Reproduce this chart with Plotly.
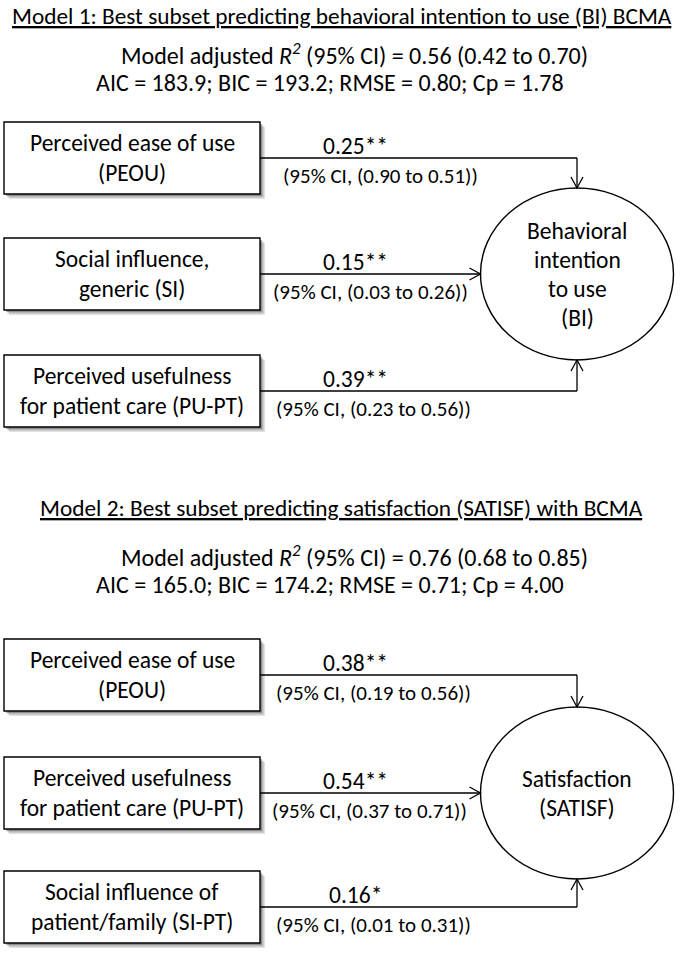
import plotly.graph_objects as go

# ---------------- data ----------------
model_titles = [
    "Model 1: Best subset predicting behavioral intention to use (BI) BCMA",
    "Model 2: Best subset predicting satisfaction (SATISF) with BCMA",
]
r2_values = ["0.56 (0.42 to 0.70)", "0.76 (0.68 to 0.85)"]
fit_stats = [
    "AIC = 183.9; BIC = 193.2; RMSE = 0.80; Cp = 1.78",
    "AIC = 165.0; BIC = 174.2; RMSE = 0.71; Cp = 4.00",
]
predictors_m1 = ["Perceived ease of use<br>(PEOU)",
                 "Social influence,<br>generic (SI)",
                 "Perceived usefulness<br>for patient care (PU-PT)"]
coef_m1 = ["0.25**", "0.15**", "0.39**"]
ci_m1 = ["(0.90 to 0.51)", "(0.03 to 0.26)", "(0.23 to 0.56)"]
outcome_m1 = ["Behavioral", "intention", "to use", "(BI)"]

predictors_m2 = ["Perceived ease of use<br>(PEOU)",
                 "Perceived usefulness<br>for patient care (PU-PT)",
                 "Social influence of<br>patient/family (SI-PT)"]
coef_m2 = ["0.38**", "0.54**", "0.16*"]
ci_m2 = ["(0.19 to 0.56)", "(0.37 to 0.71)", "(0.01 to 0.31)"]
outcome_m2 = ["Satisfaction", "(SATISF)"]

# ---------------- layout ----------------
W, H = 683, 954
FONT = "Carlito, Calibri, Lato, sans-serif"
fig = go.Figure()
shapes, annots = [], []

def text(x, y, s, size=23, xanchor="center"):
    annots.append(dict(x=x, y=y, text=s, showarrow=False, xanchor=xanchor,
                       yanchor="middle", font=dict(family=FONT, size=size, color="black")))

def line(x0, y0, x1, y1):
    shapes.append(dict(type="line", x0=x0, y0=y0, x1=x1, y1=y1,
                       line=dict(color="black", width=1.3)))

def arrowhead(x, y, dx, dy, L=11, w=6):
    px, py = -dy, dx
    ax, ay = x - dx * L + px * w, y - dy * L + py * w
    bx, by = x - dx * L - px * w, y - dy * L - py * w
    shapes.append(dict(type="path", path=f"M{ax},{ay} L{x},{y} L{bx},{by}",
                       line=dict(color="black", width=1.3)))

def model(ti, head_ys, box_tops, preds, coefs, cis, ci_x, outcome, ell_cy):
    ty, ry2, ay2 = head_ys
    text(341.5, ty, f"<u>{model_titles[ti]}</u>", size=23.3)
    text(354, ry2, f"Model adjusted <i>R</i><sup><i>2</i></sup> (95% CI) = {r2_values[ti]}", size=24)
    text(330, ay2, fit_stats[ti], size=24)
    bx0, bx1, bh = 4, 260, 72
    cx, rx, ry = 577, 96.5, 86
    shapes.append(dict(type="circle", x0=cx - rx, x1=cx + rx, y0=ell_cy - ry, y1=ell_cy + ry,
                       line=dict(color="black", width=1.4), fillcolor="white"))
    n = len(outcome)
    for k, s in enumerate(outcome):
        text(cx, ell_cy + (k - (n - 1) / 2) * 29, s, size=23.5)
    for i, (p, c, ci) in enumerate(zip(preds, coefs, cis)):
        top = box_tops[i]
        for d, a in ((5, 0.18), (3.5, 0.3), (2, 0.45)):
            shapes.append(dict(type="rect", x0=bx0 + d, x1=bx1 + d, y0=top + d, y1=top + bh + d,
                               line=dict(width=0), fillcolor=f"rgba(90,90,90,{a})"))
        shapes.append(dict(type="rect", x0=bx0, x1=bx1, y0=top, y1=top + bh,
                           line=dict(color="black", width=1.4), fillcolor="white"))
        mid = top + bh / 2
        l1, l2 = p.split("<br>")
        text((bx0 + bx1) / 2, mid - 15, l1, size=23.5)
        text((bx0 + bx1) / 2, mid + 15, l2, size=23.5)
        if i == 0:
            line(bx1, mid, cx, mid)
            line(cx, mid, cx, ell_cy - ry)
            arrowhead(cx, ell_cy - ry, 0, 1)
        elif i == 1:
            line(bx1, mid, cx - rx, mid)
            arrowhead(cx - rx, mid, 1, 0)
        else:
            line(bx1, mid, cx, mid)
            line(cx, mid, cx, ell_cy + ry)
            arrowhead(cx, ell_cy + ry, 0, -1)
        text(355, mid - 12, c, size=23.5)
        text(ci_x[i], mid + 18, f"(95% CI, {ci})", size=21, xanchor="left")

model(0, (16, 54, 82), [122, 238, 355], predictors_m1, coef_m1, ci_m1,
      [281, 271, 274], outcome_m1, 274)
model(1, (508, 556, 584), [639, 757, 871], predictors_m2, coef_m2, ci_m2,
      [274, 270, 274], outcome_m2, 793)

fig.update_layout(
    width=W, height=H, margin=dict(l=0, r=0, t=0, b=0),
    paper_bgcolor="white", plot_bgcolor="white",
    xaxis=dict(range=[0, W], visible=False, fixedrange=True),
    yaxis=dict(range=[H, 0], visible=False, fixedrange=True),
    shapes=shapes, annotations=annots, showlegend=False,
)
fig.write_html("out.html", config={"displayModeBar": False},
               post_script="document.body.style.margin='0';document.body.style.overflow='hidden';")
